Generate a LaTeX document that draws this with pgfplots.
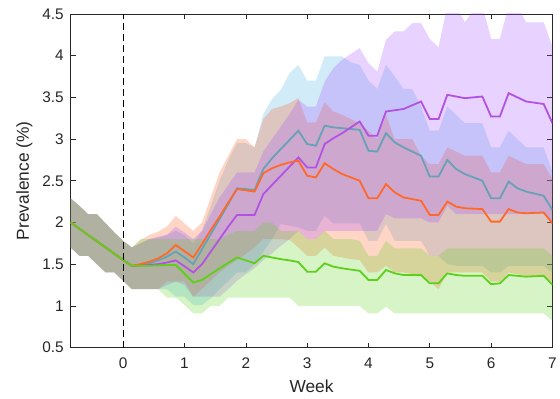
\documentclass[border=0pt]{standalone}
\usepackage{fontspec}
\setmainfont{Liberation Sans}
\usepackage{pgfplots}
\pgfplotsset{compat=1.18}
\usepackage{pgfplotstable}
\usepgfplotslibrary{fillbetween}

\definecolor{axgray}{RGB}{38,38,38}
\definecolor{lgreen}{RGB}{94,207,26}
\definecolor{lorange}{RGB}{255,104,40}
\definecolor{lteal}{RGB}{102,162,182}
\definecolor{lpurple}{RGB}{178,82,226}
\definecolor{fgreen}{RGB}{91,210,27}
\definecolor{forange}{RGB}{255,90,26}
\definecolor{fblue}{RGB}{76,176,228}
\definecolor{fpurple}{RGB}{164,76,255}

% d = day since start (week = d/7); y = prevalence, lo/hi = band
\pgfplotstableread{
d    y     lo    hi
-6   2.00  1.70  2.29
-5   1.925 1.60  2.20
-4   1.85  1.60  2.10
-3   1.775 1.50  2.10
-2   1.70  1.40  1.99
-1   1.625 1.40  1.88
0    1.55  1.30  1.78
1    1.48  1.20  1.70
2    1.48  1.20  1.80
3    1.48  1.20  1.80
4    1.485 1.20  1.80
5    1.49  1.10  1.80
6    1.49  1.10  1.80
7    1.385 1.01  1.80
8    1.28  0.91  1.80
9    1.31  0.91  1.80
10   1.38  1.00  1.80
11   1.45  1.00  1.80
12   1.515 1.10  1.85
13   1.58  1.10  1.90
14   1.545 1.10  1.90
15   1.51  1.10  1.90
16   1.60  1.10  2.00
17   1.58  1.10  2.00
18   1.56  1.10  1.90
19   1.545 1.10  1.90
20   1.525 1.00  1.90
21   1.41  1.00  1.80
22   1.41  1.00  1.80
23   1.51  1.00  1.90
24   1.47  1.00  1.80
25   1.45  1.00  1.80
26   1.435 1.00  1.80
27   1.42  1.00  1.78
28   1.31  0.91  1.60
29   1.31  0.91  1.60
30   1.43  0.99  1.78
31   1.39  0.91  1.69
32   1.37  0.91  1.69
33   1.37  0.91  1.69
34   1.37  0.91  1.69
35   1.27  0.91  1.60
36   1.27  0.91  1.60
37   1.39  0.91  1.69
38   1.37  0.91  1.69
39   1.36  0.91  1.69
40   1.36  0.91  1.69
41   1.36  0.91  1.69
42   1.26  0.91  1.69
43   1.27  0.91  1.69
44   1.37  0.91  1.69
45   1.36  0.91  1.69
46   1.35  0.91  1.69
47   1.355 0.91  1.69
48   1.36  0.91  1.69
49   1.255 0.82  1.60
}\greentab

\pgfplotstableread{
d    y     lo    hi
-6   2.00  1.70  2.29
-5   1.925 1.60  2.20
-4   1.85  1.60  2.10
-3   1.775 1.50  2.10
-2   1.70  1.40  1.99
-1   1.625 1.40  1.88
0    1.55  1.30  1.78
1    1.48  1.20  1.70
2    1.50  1.20  1.79
3    1.53  1.20  1.85
4    1.57  1.20  1.89
5    1.63  1.29  1.95
6    1.73  1.29  2.08
7    1.655 1.29  1.99
8    1.58  1.11  1.90
9    1.74  1.20  2.00
10   1.91  1.30  2.30
11   2.07  1.40  2.60
12   2.24  1.48  2.80
13   2.40  1.55  3.00
14   2.385 1.62  3.00
15   2.37  1.70  2.90
16   2.59  1.80  3.24
17   2.65  1.80  3.36
18   2.69  1.80  3.39
19   2.72  1.79  3.43
20   2.74  1.70  3.49
21   2.56  1.60  3.20
22   2.54  1.60  3.20
23   2.71  1.70  3.44
24   2.64  1.60  3.33
25   2.58  1.58  3.29
26   2.54  1.56  3.24
27   2.50  1.55  3.19
28   2.29  1.40  3.10
29   2.29  1.40  3.00
30   2.46  1.48  3.29
31   2.36  1.40  3.00
32   2.30  1.40  3.00
33   2.28  1.38  3.00
34   2.26  1.38  2.80
35   2.09  1.29  2.70
36   2.09  1.20  2.70
37   2.25  1.40  2.90
38   2.19  1.40  2.85
39   2.17  1.40  2.80
40   2.165 1.40  2.80
41   2.16  1.40  2.80
42   2.01  1.29  2.60
43   2.01  1.29  2.60
44   2.16  1.40  2.80
45   2.12  1.38  2.75
46   2.11  1.36  2.70
47   2.115 1.35  2.70
48   2.12  1.35  2.70
49   1.99  1.29  2.52
}\orangetab

\pgfplotstableread{
d    y     lo    hi
-6   2.00  1.70  2.29
-5   1.925 1.60  2.20
-4   1.85  1.60  2.10
-3   1.775 1.50  2.10
-2   1.70  1.40  1.99
-1   1.625 1.40  1.88
0    1.55  1.30  1.78
1    1.48  1.20  1.70
2    1.49  1.20  1.75
3    1.51  1.20  1.80
4    1.545 1.20  1.82
5    1.59  1.20  1.85
6    1.65  1.11  1.90
7    1.58  1.11  1.85
8    1.50  1.01  1.75
9    1.68  1.01  1.90
10   1.86  1.09  2.20
11   2.04  1.20  2.50
12   2.22  1.30  2.75
13   2.41  1.40  2.95
14   2.40  1.40  2.95
15   2.39  1.50  2.90
16   2.64  1.65  3.30
17   2.77  1.80  3.48
18   2.88  1.98  3.59
19   2.99  1.96  3.79
20   3.10  1.94  3.89
21   2.94  1.90  3.70
22   2.92  1.90  3.70
23   3.16  2.08  3.99
24   3.14  1.99  3.99
25   3.13  1.99  3.99
26   3.12  1.99  3.92
27   3.11  1.99  3.89
28   2.86  1.78  3.70
29   2.85  1.78  3.60
30   3.07  1.98  3.89
31   2.96  1.78  3.75
32   2.90  1.78  3.60
33   2.85  1.78  3.60
34   2.80  1.78  3.39
35   2.55  1.60  3.10
36   2.55  1.60  3.10
37   2.75  1.50  3.39
38   2.64  1.48  3.29
39   2.58  1.48  3.19
40   2.54  1.48  3.19
41   2.50  1.48  3.19
42   2.29  1.40  2.90
43   2.29  1.40  2.90
44   2.49  1.48  3.10
45   2.41  1.48  3.00
46   2.37  1.48  2.90
47   2.345 1.48  2.90
48   2.32  1.48  2.90
49   2.15  1.40  2.60
}\tealtab

\pgfplotstableread{
d    y     lo    hi
-6   2.00  1.70  2.29
-5   1.925 1.60  2.20
-4   1.85  1.60  2.10
-3   1.775 1.50  2.10
-2   1.70  1.40  1.99
-1   1.625 1.40  1.88
0    1.55  1.30  1.78
1    1.48  1.20  1.70
2    1.485 1.20  1.75
3    1.49  1.20  1.80
4    1.50  1.20  1.83
5    1.52  1.25  1.85
6    1.545 1.29  1.95
7    1.475 1.25  1.88
8    1.40  1.11  1.80
9    1.50  1.11  1.90
10   1.65  1.11  2.10
11   1.80  1.11  2.30
12   1.95  1.20  2.45
13   2.09  1.30  2.60
14   2.09  1.38  2.60
15   2.09  1.45  2.60
16   2.34  1.55  2.85
17   2.45  1.63  3.00
18   2.56  1.72  3.15
19   2.67  1.80  3.30
20   2.78  1.90  3.47
21   2.66  1.80  3.39
22   2.66  1.80  3.39
23   2.94  1.90  3.69
24   3.01  1.90  3.85
25   3.07  1.90  3.95
26   3.14  1.90  4.02
27   3.21  1.90  4.09
28   3.04  1.90  3.91
29   3.04  1.90  3.81
30   3.33  2.10  4.19
31   3.345 2.05  4.29
32   3.36  2.05  4.29
33   3.405 2.05  4.39
34   3.45  2.05  4.39
35   3.24  2.00  4.20
36   3.24  2.00  4.10
37   3.53  2.20  4.60
38   3.51  2.10  4.60
39   3.49  2.10  4.40
40   3.50  2.10  4.55
41   3.51  2.10  4.60
42   3.27  2.10  4.20
43   3.27  2.10  4.20
44   3.55  2.10  4.60
45   3.50  2.10  4.60
46   3.45  2.10  4.40
47   3.435 2.10  4.40
48   3.42  2.10  4.40
49   3.19  2.00  4.11
}\purpletab

\begin{document}
\begin{tikzpicture}
\path (0,0) rectangle (560bp,401bp);
\begin{axis}[
    at={(71bp,51.5bp)}, anchor=south west,
    scale only axis,
    width=484.5bp, height=335.5bp,
    xmin=-0.857, xmax=7,
    ymin=0.5, ymax=4.5,
    xtick={0,1,...,7},
    ytick={0.5,1,...,4.5},
    axis line style={axgray, line width=0.6bp},
    every tick/.style={axgray, line width=0.6bp},
    major tick length=5bp,
    tick label style={font=\fontsize{15.5}{17}\selectfont, text=axgray},
    /pgf/number format/assume math mode=true,
    xticklabel style={yshift=-7bp},
    yticklabel style={xshift=-3.5bp},
    xlabel={Week},
    ylabel={Prevalence (\%)},
    label style={font=\fontsize{17.5}{20}\selectfont, text=axgray},
    xlabel style={at={(axis description cs:0.5,0)}, anchor=center, yshift=-38.5bp},
    ylabel style={at={(axis description cs:-0.096,0.5)}, anchor=center},
]
% bands
\addplot[draw=none, name path=th] table[x expr=\thisrow{d}/7, y=hi] {\tealtab};
\addplot[draw=none, name path=tl] table[x expr=\thisrow{d}/7, y=lo] {\tealtab};
\addplot[fill=fblue, fill opacity=0.25, draw=none] fill between[of=th and tl];

\addplot[draw=none, name path=oh] table[x expr=\thisrow{d}/7, y=hi] {\orangetab};
\addplot[draw=none, name path=ol] table[x expr=\thisrow{d}/7, y=lo] {\orangetab};
\addplot[fill=forange, fill opacity=0.25, draw=none] fill between[of=oh and ol];

\addplot[draw=none, name path=ph] table[x expr=\thisrow{d}/7, y=hi] {\purpletab};
\addplot[draw=none, name path=pl] table[x expr=\thisrow{d}/7, y=lo] {\purpletab};
\addplot[fill=fpurple, fill opacity=0.25, draw=none] fill between[of=ph and pl];

\addplot[draw=none, name path=gh] table[x expr=\thisrow{d}/7, y=hi] {\greentab};
\addplot[draw=none, name path=gl] table[x expr=\thisrow{d}/7, y=lo] {\greentab};
\addplot[fill=fgreen, fill opacity=0.25, draw=none] fill between[of=gh and gl];

% lines
\addplot[lteal, line width=1.8bp] table[x expr=\thisrow{d}/7, y=y] {\tealtab};
\addplot[lpurple, line width=1.8bp] table[x expr=\thisrow{d}/7, y=y] {\purpletab};
\addplot[lorange, line width=1.8bp] table[x expr=\thisrow{d}/7, y=y] {\orangetab};
\addplot[lgreen, line width=1.8bp] table[x expr=\thisrow{d}/7, y=y] {\greentab};

\addplot[black, line width=0.8bp, dash pattern=on 7bp off 4bp] coordinates {(0,0.5) (0,4.5)};
\end{axis}
\end{tikzpicture}
\end{document}
